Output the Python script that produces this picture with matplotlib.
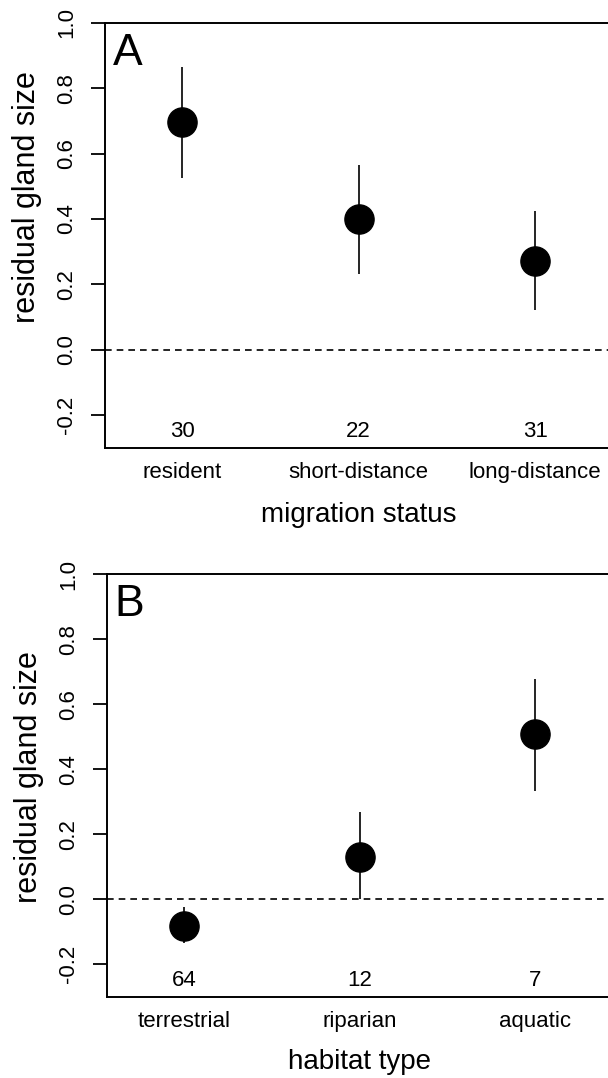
import matplotlib
matplotlib.use("Agg")
import matplotlib.pyplot as plt
import numpy as np

plt.rcParams['font.family'] = ['Liberation Sans', 'DejaVu Sans']

# Panel A data
mig_categories = ["resident", "short-distance", "long-distance"]
mig_mean = [0.698, 0.400, 0.273]
mig_lower = [0.525, 0.231, 0.122]
mig_upper = [0.866, 0.566, 0.425]
mig_n = [30, 22, 31]

# Panel B data
hab_categories = ["terrestrial", "riparian", "aquatic"]
hab_mean = [-0.082, 0.130, 0.508]
hab_lower = [-0.136, 0.000, 0.333]
hab_upper = [-0.024, 0.267, 0.679]
hab_n = [64, 12, 7]

yticks = [-0.2, 0.0, 0.2, 0.4, 0.6, 0.8, 1.0]
ytick_labels = ["-0.2", "0.0", "0.2", "0.4", "0.6", "0.8", "1.0"]

W, H = 608, 1078
fig = plt.figure(figsize=(W / 100, H / 100), dpi=100)

XLIM = (0.56, 3.42)


def px_axes(left, top, bottom):
    return fig.add_axes([left / W, 1 - bottom / H, 1.0 - left / W + 0.002, (bottom - top) / H])


def panel(ax, cats, mean, lower, upper, ns, letter, xlabel, ylab_y, xlab_y):
    x = np.arange(1, len(cats) + 1)
    mean = np.array(mean)
    yerr = [mean - np.array(lower), np.array(upper) - mean]
    ax.axhline(0, color='black', lw=1.2, ls=(0, (4, 3)), zorder=1)
    ax.errorbar(x, mean, yerr=yerr, fmt='o', color='black', ms=21, lw=1.2,
                capsize=0, zorder=3)
    for xi, n in zip(x, ns):
        ax.text(xi, -0.25, str(n), ha='center', va='center', fontsize=16)
    ax.set_xlim(*XLIM)
    ax.set_ylim(-0.3, 1.0)
    ax.set_yticks(yticks)
    ax.set_yticklabels(ytick_labels, rotation=90, va='center', fontsize=16)
    ax.set_xticks(x)
    ax.set_xticklabels(cats, fontsize=16)
    ax.tick_params(axis='x', length=0, pad=10)
    ax.tick_params(axis='y', direction='out', length=10, width=1.3, pad=10)
    ax.spines['right'].set_visible(False)
    for s in ['left', 'top', 'bottom']:
        ax.spines[s].set_linewidth(1.4)
    ax.set_xlabel(xlabel, fontsize=20)
    ax.xaxis.label.set_va('center')
    xc = (2 - XLIM[0]) / (XLIM[1] - XLIM[0])
    ax.xaxis.set_label_coords(xc, xlab_y)
    ax.set_ylabel("residual gland size", fontsize=22)
    ax.yaxis.label.set_va('center')
    ax.yaxis.set_label_coords(-0.155, ylab_y)
    ax.text(0.016, 0.902, letter, transform=ax.transAxes, fontsize=32,
            ha='left', va='baseline')


axA = px_axes(104.7, 23, 447.7)
panel(axA, mig_categories, mig_mean, mig_lower, mig_upper, mig_n, "A",
      "migration status", 0.589, -0.158)

axB = px_axes(106.6, 574.3, 996.7)
panel(axB, hab_categories, hab_mean, hab_lower, hab_upper, hab_n, "B",
      "habitat type", 0.519, -0.154)

fig.savefig("out.png", dpi=100)
